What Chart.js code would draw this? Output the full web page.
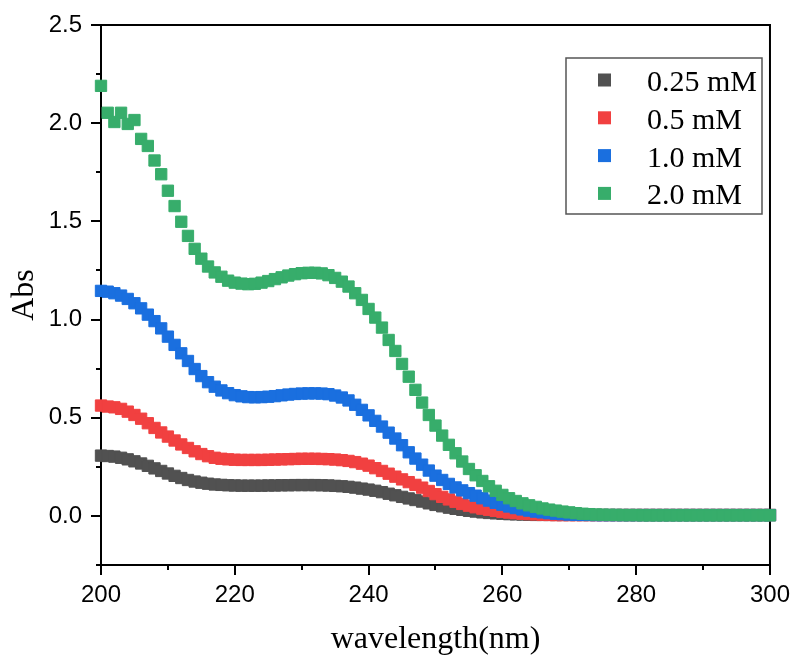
<!DOCTYPE html>
<html>
<head>
<meta charset="utf-8">
<script src="https://cdn.jsdelivr.net/npm/chart.js@4.4.1/dist/chart.umd.min.js"></script>
<style>
  html, body { margin: 0; padding: 0; background: #fff; }
  #wrap { width: 796px; height: 661px; }
</style>
</head>
<body>
<div id="wrap"><canvas id="c" width="796" height="661"></canvas></div>
<script>
// UV-Vis absorbance spectra, 4 concentrations
const WAVELENGTH = [
  200, 201, 202, 203, 204, 205, 206, 207, 208, 209,
  210, 211, 212, 213, 214, 215, 216, 217, 218, 219,
  220, 221, 222, 223, 224, 225, 226, 227, 228, 229,
  230, 231, 232, 233, 234, 235, 236, 237, 238, 239,
  240, 241, 242, 243, 244, 245, 246, 247, 248, 249,
  250, 251, 252, 253, 254, 255, 256, 257, 258, 259,
  260, 261, 262, 263, 264, 265, 266, 267, 268, 269,
  270, 271, 272, 273, 274, 275, 276, 277, 278, 279,
  280, 281, 282, 283, 284, 285, 286, 287, 288, 289,
  290, 291, 292, 293, 294, 295, 296, 297, 298, 299,
  300
];

const ABS_025 = [
  0.307, 0.305, 0.302, 0.296, 0.288, 0.278, 0.267, 0.255, 0.242, 0.229,
  0.216, 0.204, 0.193, 0.183, 0.175, 0.169, 0.164, 0.160, 0.158, 0.156,
  0.155, 0.154, 0.154, 0.154, 0.154, 0.155, 0.155, 0.156, 0.156, 0.157,
  0.157, 0.157, 0.157, 0.156, 0.155, 0.153, 0.151, 0.148, 0.144, 0.139,
  0.134, 0.128, 0.121, 0.113, 0.105, 0.097, 0.089, 0.081, 0.073, 0.064,
  0.056, 0.049, 0.042, 0.036, 0.031, 0.026, 0.022, 0.018, 0.015, 0.013,
  0.011, 0.009, 0.008, 0.007, 0.006, 0.005, 0.005, 0.005, 0.005, 0.005,
  0.005, 0.005, 0.005, 0.005, 0.005, 0.005, 0.005, 0.005, 0.005, 0.005,
  0.005, 0.005, 0.005, 0.005, 0.005, 0.005, 0.005, 0.005, 0.005, 0.005,
  0.005, 0.005, 0.005, 0.005, 0.005, 0.005, 0.005, 0.005, 0.005, 0.005,
  0.005
];

const ABS_05 = [
  0.562, 0.557, 0.553, 0.545, 0.531, 0.514, 0.495, 0.472, 0.448, 0.425,
  0.404, 0.384, 0.364, 0.346, 0.329, 0.315, 0.304, 0.296, 0.291, 0.288,
  0.286, 0.285, 0.285, 0.285, 0.285, 0.286, 0.287, 0.288, 0.289, 0.290,
  0.291, 0.291, 0.291, 0.290, 0.289, 0.287, 0.284, 0.280, 0.274, 0.266,
  0.256, 0.243, 0.229, 0.215, 0.200, 0.186, 0.172, 0.158, 0.144, 0.127,
  0.111, 0.097, 0.084, 0.072, 0.061, 0.052, 0.044, 0.037, 0.031, 0.026,
  0.021, 0.017, 0.014, 0.011, 0.009, 0.008, 0.006, 0.005, 0.004, 0.004,
  0.004, 0.004, 0.004, 0.004, 0.004, 0.004, 0.004, 0.004, 0.004, 0.004,
  0.004, 0.004, 0.004, 0.004, 0.004, 0.004, 0.004, 0.004, 0.004, 0.004,
  0.004, 0.004, 0.004, 0.004, 0.004, 0.004, 0.004, 0.004, 0.004, 0.004,
  0.004
];

const ABS_10 = [
  1.146, 1.142, 1.134, 1.122, 1.105, 1.083, 1.057, 1.025, 0.992, 0.955,
  0.913, 0.871, 0.828, 0.789, 0.748, 0.712, 0.681, 0.658, 0.639, 0.625,
  0.615, 0.609, 0.605, 0.604, 0.605, 0.607, 0.610, 0.614, 0.618, 0.621,
  0.623, 0.624, 0.624, 0.623, 0.620, 0.613, 0.603, 0.588, 0.566, 0.540,
  0.512, 0.484, 0.455, 0.424, 0.394, 0.360, 0.324, 0.292, 0.261, 0.231,
  0.205, 0.183, 0.163, 0.145, 0.130, 0.116, 0.103, 0.090, 0.078, 0.067,
  0.057, 0.048, 0.040, 0.033, 0.027, 0.022, 0.018, 0.014, 0.011, 0.009,
  0.007, 0.006, 0.005, 0.005, 0.004, 0.004, 0.004, 0.004, 0.004, 0.004,
  0.004, 0.004, 0.004, 0.004, 0.004, 0.004, 0.004, 0.004, 0.004, 0.004,
  0.004, 0.004, 0.004, 0.004, 0.004, 0.004, 0.004, 0.004, 0.004, 0.004,
  0.004
];

const ABS_20 = [
  2.190, 2.053, 2.006, 2.053, 1.996, 2.016, 1.920, 1.884, 1.810, 1.740,
  1.656, 1.578, 1.498, 1.426, 1.360, 1.310, 1.270, 1.240, 1.218, 1.198,
  1.188, 1.183, 1.180, 1.182, 1.188, 1.196, 1.206, 1.215, 1.224, 1.231,
  1.236, 1.238, 1.238, 1.235, 1.226, 1.212, 1.193, 1.168, 1.134, 1.100,
  1.054, 1.010, 0.959, 0.896, 0.840, 0.774, 0.709, 0.642, 0.577, 0.514,
  0.460, 0.409, 0.362, 0.319, 0.277, 0.239, 0.207, 0.178, 0.151, 0.128,
  0.107, 0.090, 0.076, 0.064, 0.054, 0.046, 0.038, 0.032, 0.027, 0.022,
  0.018, 0.014, 0.011, 0.009, 0.007, 0.006, 0.005, 0.005, 0.004, 0.004,
  0.004, 0.003, 0.003, 0.003, 0.003, 0.003, 0.003, 0.003, 0.003, 0.003,
  0.003, 0.003, 0.003, 0.003, 0.003, 0.003, 0.003, 0.003, 0.003, 0.003,
  0.003
];

const SERIES_LABELS = ['0.25 mM', '0.5 mM', '1.0 mM', '2.0 mM'];
const SERIES_COLORS = ['#515151', '#F14040', '#1A6FDF', '#37AD6B'];

const X_TICKS = [200, 220, 240, 260, 280, 300];
const X_MINOR = [210, 230, 250, 270, 290];
const Y_TICKS = [0, 0.5, 1.0, 1.5, 2.0, 2.5];
const Y_MINOR = [-0.25, 0.25, 0.75, 1.25, 1.75, 2.25];

const SANS  = '"Liberation Sans", Arial, sans-serif';
const SERIF = '"Liberation Serif", "Times New Roman", serif';

const toPoints = ys => WAVELENGTH.map((x, i) => ({ x, y: ys[i] }));

// minor ticks + top/right frame, drawn under the markers
const frameAndMinor = {
  id: 'frameAndMinor',
  beforeDatasetsDraw(chart) {
    const { ctx, chartArea: a, scales: { x, y } } = chart;
    ctx.save();
    ctx.strokeStyle = '#000';
    ctx.lineWidth = 2;
    ctx.beginPath();
    X_MINOR.forEach(v => {
      const px = Math.round(x.getPixelForValue(v));
      ctx.moveTo(px, a.bottom); ctx.lineTo(px, a.bottom + 5);
    });
    Y_MINOR.forEach(v => {
      const py = Math.round(y.getPixelForValue(v));
      ctx.moveTo(a.left, py); ctx.lineTo(a.left - 5, py);
    });
    ctx.stroke();
    ctx.beginPath();
    ctx.moveTo(a.left, a.top);
    ctx.lineTo(a.right, a.top);
    ctx.lineTo(a.right, a.bottom);
    ctx.stroke();
    ctx.restore();
  }
};

// boxed legend inside the plot, top right
const boxLegend = {
  id: 'boxLegend',
  afterDatasetsDraw(chart) {
    const ctx = chart.ctx;
    const box = { x: 566, y: 58, w: 196, h: 156 };
    ctx.save();
    ctx.fillStyle = '#fff';
    ctx.fillRect(box.x, box.y, box.w, box.h);
    ctx.strokeStyle = '#555';
    ctx.lineWidth = 1.5;
    ctx.strokeRect(box.x, box.y, box.w, box.h);
    ctx.font = '30px ' + SERIF;
    ctx.textBaseline = 'alphabetic';
    ctx.textAlign = 'left';
    chart.data.datasets.forEach((ds, i) => {
      const cy = 80 + i * 37.8;
      ctx.fillStyle = ds.backgroundColor;
      ctx.fillRect(598, cy - 6.5, 13, 13);
      ctx.fillStyle = '#000';
      ctx.fillText(ds.label, 647, cy + 11);
    });
    ctx.restore();
  }
};

const datasets = [ABS_025, ABS_05, ABS_10, ABS_20].map((ys, i) => ({
  label: SERIES_LABELS[i],
  data: toPoints(ys),
  backgroundColor: SERIES_COLORS[i],
  borderColor: SERIES_COLORS[i],
  pointStyle: 'rect',
  pointRadius: 8,
  pointBorderWidth: 1,
  pointHoverRadius: 8,
  showLine: false,
  clip: false,
  order: 4 - i,   // later series on top, like the original
}));

new Chart(document.getElementById('c').getContext('2d'), {
  type: 'scatter',
  data: { datasets },
  options: {
    responsive: false,
    animation: false,
    layout: { padding: { top: 25, right: 26, left: 0, bottom: 0 } },
    plugins: {
      legend: { display: false },
      tooltip: { enabled: false },
    },
    scales: {
      x: {
        type: 'linear',
        min: 200,
        max: 300,
        afterBuildTicks: s => { s.ticks = X_TICKS.map(v => ({ value: v })); },
        afterFit: s => { s.height = 96; },
        ticks: {
          autoSkip: false,
          maxRotation: 0,
          padding: 6,
          color: '#000',
          font: { family: SANS, size: 24 },
          callback: v => String(v),
        },
        grid: { drawOnChartArea: false, drawTicks: true, tickLength: 10, color: '#000', lineWidth: 2 },
        border: { color: '#000', width: 2 },
        title: {
          display: true,
          text: 'wavelength(nm)',
          color: '#000',
          font: { family: SERIF, size: 32 },
          padding: { top: 0, bottom: 2 },
        },
      },
      y: {
        type: 'linear',
        min: -0.25,
        max: 2.5,
        afterBuildTicks: s => { s.ticks = Y_TICKS.map(v => ({ value: v })); },
        afterFit: s => { s.width = 101; },
        ticks: {
          padding: 9,
          color: '#000',
          font: { family: SANS, size: 24 },
          callback: v => v.toFixed(1),
        },
        grid: { drawOnChartArea: false, drawTicks: true, tickLength: 10, color: '#000', lineWidth: 2 },
        border: { color: '#000', width: 2 },
        title: {
          display: true,
          text: 'Abs',
          color: '#000',
          font: { family: SERIF, size: 32 },
          padding: { top: 5, bottom: 0 },
        },
      },
    },
  },
  plugins: [frameAndMinor, boxLegend],
});
</script>
</body>
</html>
